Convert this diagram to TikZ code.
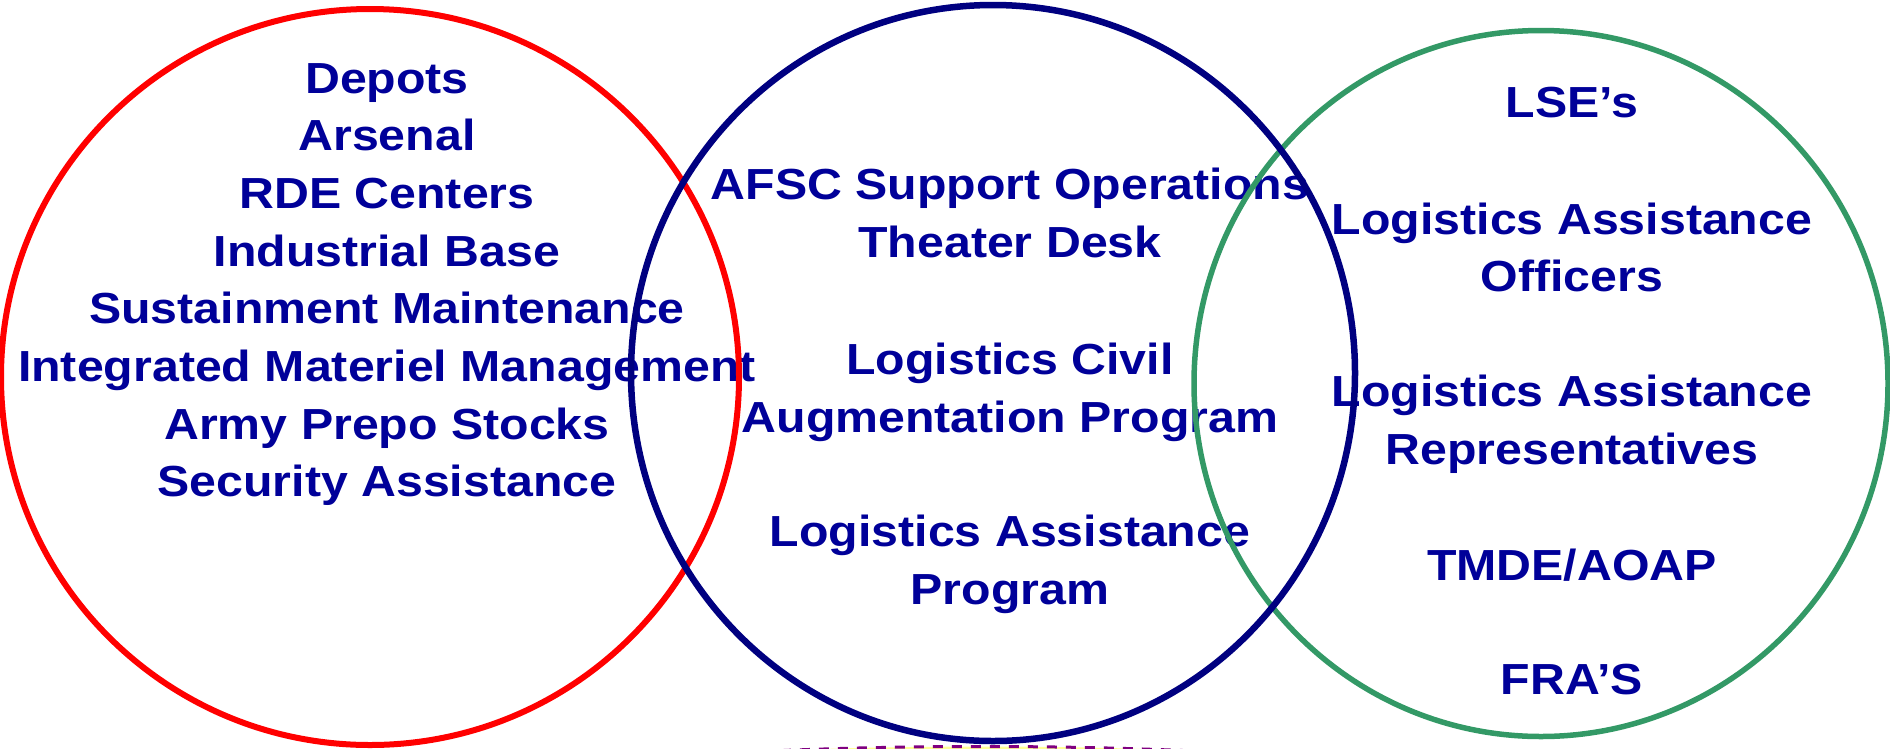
\documentclass[tikz,border=0pt]{standalone}
\usepackage{fontspec}
\setmainfont{Liberation Sans}[FakeStretch=1.11]
\definecolor{txtblue}{RGB}{0,0,153}
\definecolor{ringred}{RGB}{255,0,0}
\definecolor{ringblue}{RGB}{0,0,128}
\definecolor{ringgreen}{RGB}{51,153,102}
\definecolor{dashpurple}{RGB}{128,0,128}
\definecolor{fillyellow}{RGB}{255,255,153}
\begin{document}
\begin{tikzpicture}[x=1pt,y=-1pt,
  lbl/.style={anchor=base, inner sep=0pt, text=txtblue, font=\bfseries\fontsize{43.5}{52}\selectfont},
  ring/.style={line width=6pt}]
\useasboundingbox (0,0) rectangle (1890,748);
% hidden shape at the bottom
\draw[dashpurple, fill=fillyellow, line width=3pt, dash pattern=on 10pt off 9pt]
  (983,781.5) ellipse [x radius=430pt, y radius=35pt];
% left group
\node[lbl] (l1) at (387,93) {Depots};
\node[lbl] (l2) at (387,150.7) {Arsenal};
\node[lbl] (l3) at (387,208.4) {RDE Centers};
\node[lbl] (l4) at (387,266.1) {Industrial Base};
\node[lbl] (l5) at (387,323.8) {Sustainment Maintenance};
\node[lbl] (l6) at (387,381.5) {Integrated Materiel Management};
\node[lbl] (l7) at (387,439.2) {Army Prepo Stocks};
\node[lbl] (l8) at (387,496.9) {Security Assistance};
% middle group
\node[lbl] (m1) at (1010,199.5) {AFSC Support Operations};
\node[lbl] (m2) at (1010,257.5) {Theater Desk};
\node[lbl] (m3) at (1010,374) {Logistics Civil};
\node[lbl] (m4) at (1010,432) {Augmentation Program};
\node[lbl] (m5) at (1010,546) {Logistics Assistance};
\node[lbl] (m6) at (1010,604) {Program};
% right group
\node[lbl] (r1) at (1572,117) {LSE’s};
\node[lbl] (r2) at (1572,234) {Logistics Assistance};
\node[lbl] (r3) at (1572,291) {Officers};
\node[lbl] (r4) at (1572,406) {Logistics Assistance};
\node[lbl] (r5) at (1572,464) {Representatives};
\node[lbl] (r6) at (1572,580) {TMDE/AOAP};
\node[lbl] (r7) at (1572,694) {FRA’S};
% rings
\draw[ring, ringred] (370,377) ellipse [x radius=369pt, y radius=368pt];
\draw[ring, ringgreen, line width=5.5pt] (1541,383.5) ellipse [x radius=347pt, y radius=353pt];
\draw[ring, ringblue, line width=6.5pt] (993,373) ellipse [x radius=362pt, y radius=368pt];
\end{tikzpicture}
\end{document}
